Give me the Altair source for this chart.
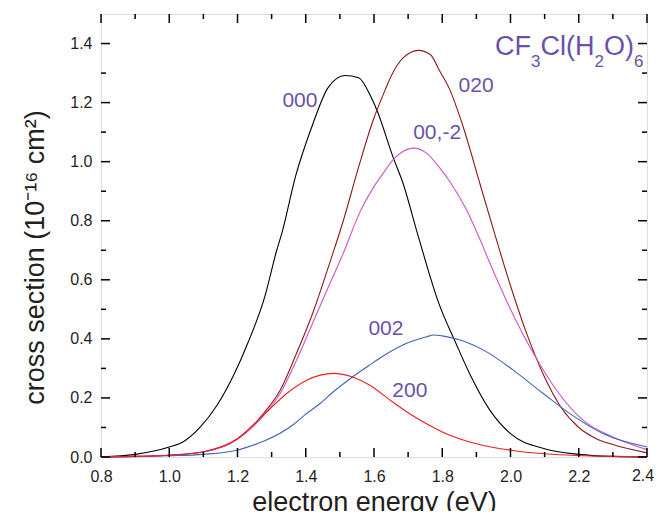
import altair as alt
import pandas as pd

# ---------------- data ----------------
x_000 = [0.80, 0.90, 1.00, 1.04, 1.09, 1.14, 1.19, 1.23, 1.28, 1.315, 1.33, 1.37, 1.42, 1.465,
         1.515, 1.555, 1.59, 1.61, 1.655, 1.685, 1.73, 1.79, 1.84, 1.88, 1.94, 2.00, 2.10,
         2.20, 2.30, 2.40]
y_000 = [0.0, 0.009, 0.034, 0.051, 0.10, 0.175, 0.28, 0.385, 0.543, 0.70, 0.758, 0.95, 1.125,
         1.25, 1.292, 1.284, 1.222, 1.17, 1.018, 0.927, 0.746, 0.52, 0.385, 0.283, 0.158,
         0.079, 0.028, 0.009, 0.002, 0.0]

x_020 = [0.80, 0.90, 1.00, 1.10, 1.20, 1.276, 1.325, 1.373, 1.422, 1.471, 1.51, 1.554, 1.598,
         1.627, 1.657, 1.686, 1.73, 1.765, 1.793, 1.822, 1.861, 1.91, 1.95, 2.00, 2.05,
         2.10, 2.15, 2.20, 2.25, 2.30, 2.40]
y_020 = [0.0, 0.002, 0.006, 0.017, 0.062, 0.147, 0.226, 0.351, 0.492, 0.66, 0.80, 0.978, 1.142,
         1.227, 1.305, 1.352, 1.377, 1.363, 1.306, 1.244, 1.119, 0.927, 0.77, 0.58, 0.41,
         0.27, 0.165, 0.10, 0.063, 0.042, 0.014]

x_00m2 = [0.80, 0.90, 1.00, 1.10, 1.20, 1.276, 1.325, 1.373, 1.422, 1.471, 1.51, 1.559, 1.598,
          1.627, 1.657, 1.686, 1.715, 1.754, 1.793, 1.822, 1.871, 1.91, 1.94, 2.00, 2.067,
          2.135, 2.213, 2.30, 2.40]
y_00m2 = [0.0, 0.002, 0.006, 0.017, 0.060, 0.14, 0.215, 0.328, 0.458, 0.588, 0.69, 0.83,
          0.912, 0.961, 1.008, 1.035, 1.046, 1.029, 0.978, 0.933, 0.837, 0.738, 0.655, 0.50,
          0.351, 0.226, 0.124, 0.068, 0.025]

x_002 = [0.80, 0.90, 1.00, 1.10, 1.198, 1.24, 1.28, 1.364, 1.40, 1.442, 1.48, 1.537, 1.588,
         1.627, 1.686, 1.754, 1.774, 1.80, 1.852, 1.93, 2.008, 2.096, 2.174, 2.272, 2.40]
y_002 = [0.0, 0.001, 0.004, 0.009, 0.023, 0.038, 0.055, 0.11, 0.145, 0.181, 0.22, 0.271, 0.312,
         0.342, 0.38, 0.407, 0.413, 0.41, 0.396, 0.356, 0.294, 0.215, 0.147, 0.079, 0.034]

x_200 = [0.80, 0.90, 1.00, 1.10, 1.198, 1.276, 1.344, 1.403, 1.481, 1.537, 1.588, 1.65, 1.70,
         1.75, 1.80, 1.85, 1.90, 1.95, 2.00, 2.10, 2.194, 2.30, 2.40]
y_200 = [0.0, 0.002, 0.006, 0.018, 0.06, 0.141, 0.215, 0.26, 0.283, 0.271, 0.243, 0.19, 0.15,
         0.115, 0.085, 0.062, 0.045, 0.032, 0.023, 0.011, 0.005, 0.002, 0.001]

series_names = ["000", "020", "00,-2", "002", "200"]
series_colors = ["#000000", "#8B1A1A", "#CC55C4", "#4063B8", "#F01E1E"]

label_text = ["000", "020", "00,-2", "002", "200"]
label_x = [1.383, 1.899, 1.785, 1.635, 1.705]
label_y = [1.207, 1.257, 1.097, 0.433, 0.223]

x_major = [0.8, 1.0, 1.2, 1.4, 1.6, 1.8, 2.0, 2.2, 2.4]
x_minor = [0.9, 1.1, 1.3, 1.5, 1.7, 1.9, 2.1, 2.3]
y_major = [0.0, 0.2, 0.4, 0.6, 0.8, 1.0, 1.2, 1.4]
y_minor = [0.1, 0.3, 0.5, 0.7, 0.9, 1.1, 1.3]

# ---------------- build ----------------
W, H = 546, 443
PURPLE = "#6A52A8"
FONT = "Liberation Sans"
LABEL_COLOR = "#231F20"

frames = []
for name, xs, ys in [("000", x_000, y_000), ("020", x_020, y_020), ("00,-2", x_00m2, y_00m2),
                     ("002", x_002, y_002), ("200", x_200, y_200)]:
    frames.append(pd.DataFrame({"energy": xs, "cs": ys, "series": name}))
df = pd.concat(frames, ignore_index=True)

xscale = alt.Scale(domain=[0.8, 2.4], nice=False, zero=False)
yscale = alt.Scale(domain=[0, 1.5], nice=False)

lines = alt.Chart(df).mark_line(strokeWidth=1.1, interpolate="monotone").encode(
    x=alt.X("energy:Q", scale=xscale,
            axis=alt.Axis(values=x_major[:-1], format=".1f", ticks=False, domain=False,
                          grid=False, labelFontSize=16, labelPadding=11,
                          labelColor=LABEL_COLOR, labelFont=FONT, labelFlush=False,
                          labelOverlap=False,
                          title="electron energy (eV)", titleFontSize=27,
                          titleFontWeight="normal", titleFont=FONT, titleColor=LABEL_COLOR,
                          titleY=53, titleBaseline="alphabetic")),
    y=alt.Y("cs:Q", scale=yscale,
            axis=alt.Axis(values=y_major, format=".1f", ticks=False, domain=False, grid=False,
                          labelFontSize=16, labelPadding=9, labelColor=LABEL_COLOR,
                          labelFont=FONT, labelFlush=False, labelOverlap=False,
                          title="cross section (10⁻¹⁶ cm²)", titleFontSize=27,
                          titleFontWeight="normal", titleFont=FONT, titleColor=LABEL_COLOR,
                          titleAngle=270, titleX=-58, titleY=243, titleAlign="center",
                          titleBaseline="alphabetic")),
    color=alt.Color("series:N", scale=alt.Scale(domain=series_names, range=series_colors),
                    legend=None),
    detail="series:N",
)

labels = alt.Chart(pd.DataFrame({"x": label_x, "y": label_y, "t": label_text})).mark_text(
    fontSize=21, font=FONT, color=PURPLE, align="center", baseline="middle"
).encode(x=alt.X("x:Q", scale=xscale), y=alt.Y("y:Q", scale=yscale), text="t:N")

# last x tick label, nudged left so it stays inside the page
last_label = alt.Chart(pd.DataFrame({"x": [x_major[-1]], "t": ["%.1f" % x_major[-1]]})).mark_text(
    fontSize=16, font=FONT, color=LABEL_COLOR, align="center", baseline="top", dx=-4
).encode(x=alt.X("x:Q", scale=xscale), y=alt.value(H + 11), text="t:N")

layers = [lines, labels, last_label]

# inward ticks on all four sides
def xticks(vals, length, bottom=True):
    d = pd.DataFrame({"v": vals})
    if bottom:
        y1, y2 = H, H - length
    else:
        y1, y2 = 0, length
    return alt.Chart(d).mark_rule(color="black", strokeWidth=1.5).encode(
        x=alt.X("v:Q", scale=xscale), y=alt.value(y1), y2=alt.value(y2))

def yticks(vals, length, left=True):
    d = pd.DataFrame({"v": vals})
    if left:
        x1, x2 = 0, length
    else:
        x1, x2 = W, W - length
    return alt.Chart(d).mark_rule(color="black", strokeWidth=1.5).encode(
        y=alt.Y("v:Q", scale=yscale), x=alt.value(x1), x2=alt.value(x2))

layers += [xticks(x_major, 9, True), xticks(x_minor, 5, True),
           xticks(x_major, 9, False), xticks(x_minor, 5, False),
           yticks(y_major, 9, True), yticks(y_minor, 5, True),
           yticks(y_major, 9, False), yticks(y_minor, 5, False)]

# molecule title with subscripts
title_pieces = [("CF", 394, 41, 27), ("3", 430, 53, 17), ("Cl(H", 439.5, 41, 27),
                ("2", 493.5, 53, 17), ("O)", 503, 41, 27), ("6", 533, 53, 17)]
for txt, px, py, fs in title_pieces:
    layers.append(
        alt.Chart(pd.DataFrame({"t": [txt]})).mark_text(
            fontSize=fs, font=FONT, color=PURPLE, align="left", baseline="alphabetic"
        ).encode(x=alt.value(px), y=alt.value(py), text="t:N")
    )

chart = alt.layer(*layers).properties(
    width=W, height=H,
    autosize=alt.AutoSizeParams(type="none"),
    padding={"left": 93, "top": 6, "right": 7, "bottom": 54},
).configure_view(stroke="black", strokeWidth=1.5).configure(font=FONT)

chart.save("out.html", embed_options={"renderer": "svg", "actions": False})
